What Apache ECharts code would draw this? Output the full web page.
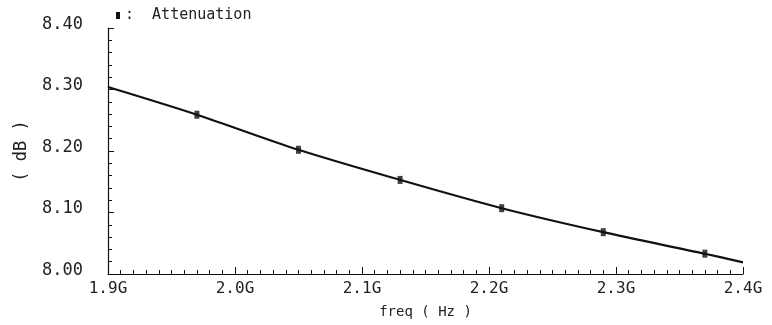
<!DOCTYPE html>
<html>
<head>
<meta charset="utf-8">
<style>
  html, body { margin: 0; padding: 0; background: #fff; }
  #chart { width: 772px; height: 325px; }
</style>
<script src="https://cdn.jsdelivr.net/npm/echarts@6/dist/echarts.min.js"></script>
</head>
<body>
<div id="chart"></div>
<script>
// Attenuation (dB) versus frequency (GHz)
const curveFreq = [1.90, 1.97, 2.05, 2.13, 2.21, 2.29, 2.37, 2.40];
const curveDb   = [8.304, 8.259, 8.202, 8.153, 8.107, 8.068, 8.033, 8.019];

// Sample points marked on the curve
const markFreq = [1.97, 2.05, 2.13, 2.21, 2.29, 2.37];
const markDb   = [8.259, 8.202, 8.153, 8.107, 8.068, 8.033];

const seriesName = 'Attenuation';
const xTitle = 'freq ( Hz )';
const yTitle = '( dB )';

const font = 'DejaVu Sans Mono';
const ink = '#111';
const textInk = '#222';

const chart = echarts.init(document.getElementById('chart'), null, { renderer: 'canvas' });

chart.setOption({
  animation: false,
  backgroundColor: '#fff',
  textStyle: { fontFamily: font },
  legend: {
    left: 111, top: 3,
    icon: 'rect', itemWidth: 4, itemHeight: 7, itemGap: 0,
    data: [seriesName],
    formatter: ':  ' + seriesName,
    textStyle: { fontFamily: font, fontSize: 15, color: textInk }
  },
  grid: { left: 108, right: 29, top: 28, bottom: 51, outerBoundsMode: 'none', containLabel: false },
  xAxis: {
    type: 'value', min: 1.9, max: 2.4, interval: 0.1,
    name: xTitle, nameLocation: 'middle', nameGap: 31,
    nameTextStyle: { fontFamily: font, fontSize: 14, color: textInk },
    axisLine: { show: true, lineStyle: { color: ink, width: 1.2 } },
    axisTick: { show: true, inside: true, length: 7, lineStyle: { color: ink } },
    minorTick: { show: true, splitNumber: 10, length: 4, lineStyle: { color: ink } },
    splitLine: { show: false },
    axisLabel: {
      fontFamily: font, fontSize: 16, color: textInk, margin: 7,
      formatter: v => v.toFixed(1) + 'G'
    }
  },
  yAxis: {
    type: 'value', min: 8.0, max: 8.4, interval: 0.1,
    name: yTitle, nameLocation: 'middle', nameGap: 78,
    nameTextStyle: { fontFamily: font, fontSize: 17, color: textInk },
    axisLine: { show: true, lineStyle: { color: ink, width: 1.2 } },
    axisTick: { show: true, inside: true, length: 6, lineStyle: { color: ink } },
    minorTick: { show: true, splitNumber: 5, length: 4, lineStyle: { color: ink } },
    splitLine: { show: false },
    axisLabel: {
      fontFamily: font, fontSize: 17, color: textInk, margin: 25,
      verticalAlign: 'bottom', lineHeight: 7,
      formatter: v => v.toFixed(2)
    }
  },
  series: [
    {
      name: seriesName,
      type: 'line',
      data: curveFreq.map((f, i) => [f, curveDb[i]]),
      smooth: 0.3,
      showSymbol: false,
      lineStyle: { color: ink, width: 2.2 },
      itemStyle: { color: ink },
      z: 2
    },
    {
      name: seriesName,
      type: 'scatter',
      data: markFreq.map((f, i) => [f, markDb[i]]),
      symbol: 'rect',
      symbolSize: [5, 8],
      itemStyle: { color: ink },
      z: 3
    }
  ]
});
</script>
</body>
</html>
